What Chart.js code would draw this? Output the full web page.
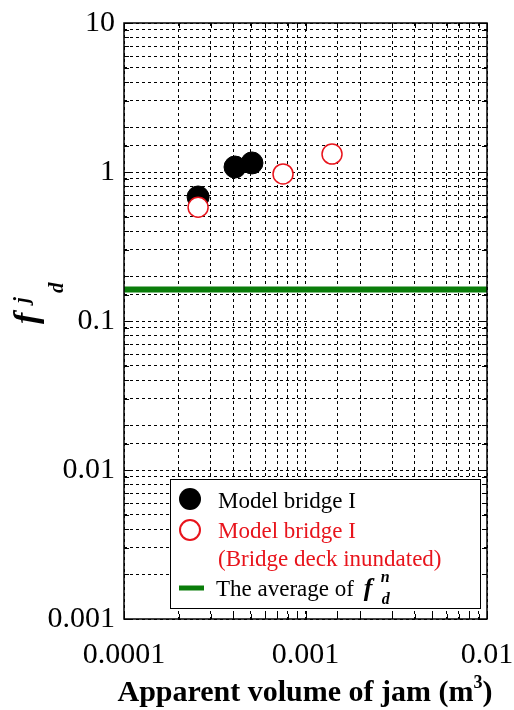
<!DOCTYPE html>
<html><head><meta charset="utf-8">
<script src="https://cdn.jsdelivr.net/npm/chart.js@4.4.0/dist/chart.umd.min.js"></script>
<style>html,body{margin:0;padding:0;background:#fff;} canvas{display:block;}</style>
</head><body>
<canvas id="c" width="514" height="710"></canvas>
<script>
// ---- data ----
const xRange = [0.0001, 0.01];
const yRange = [0.001, 10];
const xTickLabels = ['0.0001', '0.001', '0.01'];
const yTickLabels = ['0.001', '0.01', '0.1', '1', '10'];
const bridgeX = [0.000256, 0.000409, 0.000507];
const bridgeY = [0.68, 1.08, 1.15];
const inundatedX = [0.000256, 0.000752, 0.00140];
const inundatedY = [0.58, 0.97, 1.32];
const averageX = [0.0001, 0.01];
const averageY = [0.163, 0.163];
const legendTexts = ['Model bridge I', 'Model bridge I', '(Bridge deck inundated)', 'The average of '];
const xTitleMain = 'Apparent volume of jam (m';
const xTitleSup = '3';
const xTitleEnd = ')';

const SERIF = "'Liberation Serif', 'Times New Roman', serif";
const GREEN = '#0a7d0a';
const RED = '#e8141c';

function pts(xs, ys) { return xs.map((x, i) => ({ x: x, y: ys[i] })); }
function decadeLabel(v, min, labels) {
  const l = Math.log10(v);
  if (Math.abs(l - Math.round(l)) > 1e-6) return '';
  const idx = Math.round(l - Math.log10(min));
  return labels[idx] !== undefined ? labels[idx] : '';
}
function isDecade(v) { const l = Math.log10(v); return Math.abs(l - Math.round(l)) < 1e-6; }

const decor = {
  id: 'decor',
  afterDraw(chart) {
    const ctx = chart.ctx;
    const a = chart.chartArea;
    const xs = chart.scales.x, ys = chart.scales.y;
    ctx.save();
    // inner tick marks
    ctx.strokeStyle = '#000';
    ctx.lineWidth = 1;
    ctx.beginPath();
    ys.ticks.forEach(t => {
      const p = Math.round(ys.getPixelForValue(t.value)) + 0.5;
      const len = isDecade(t.value) ? 8 : 5;
      ctx.moveTo(a.left, p); ctx.lineTo(a.left + len, p);
      ctx.moveTo(a.right, p); ctx.lineTo(a.right - len, p);
    });
    xs.ticks.forEach(t => {
      const p = Math.round(xs.getPixelForValue(t.value)) + 0.5;
      const len = isDecade(t.value) ? 8 : 5;
      ctx.moveTo(p, a.bottom); ctx.lineTo(p, a.bottom - len);
      ctx.moveTo(p, a.top); ctx.lineTo(p, a.top + len);
    });
    ctx.stroke();
    // frame
    ctx.lineWidth = 1.5;
    ctx.strokeRect(a.left, a.top, a.right - a.left, a.bottom - a.top);

    // y title  f^j_d (rotated)
    ctx.save();
    ctx.translate(37, 324);
    ctx.rotate(-Math.PI / 2);
    ctx.fillStyle = '#000';
    ctx.textAlign = 'left';
    ctx.textBaseline = 'alphabetic';
    ctx.font = 'italic bold 34px ' + SERIF;
    ctx.fillText('f', 0, 0);
    ctx.font = 'italic bold 21px ' + SERIF;
    ctx.fillText('j', 21, -9);
    ctx.fillText('d', 31, 26);
    ctx.restore();

    // x title
    ctx.fillStyle = '#000';
    ctx.textBaseline = 'alphabetic';
    ctx.textAlign = 'left';
    const fMain = 'bold 30px ' + SERIF, fSup = 'bold 18px ' + SERIF;
    ctx.font = fMain;
    const w1 = ctx.measureText(xTitleMain).width;
    const w3 = ctx.measureText(xTitleEnd).width;
    ctx.font = fSup;
    const w2 = ctx.measureText(xTitleSup).width;
    const total = w1 + w2 + w3;
    let x0 = 305 - total / 2;
    const base = 701;
    ctx.font = fMain; ctx.fillText(xTitleMain, x0, base);
    ctx.font = fSup; ctx.fillText(xTitleSup, x0 + w1, base - 13);
    ctx.font = fMain; ctx.fillText(xTitleEnd, x0 + w1 + w2, base);

    // legend box
    const L = { l: 170, t: 479, r: 480, b: 608 };
    ctx.fillStyle = '#fff';
    ctx.fillRect(L.l, L.t, L.r - L.l, L.b - L.t);
    ctx.strokeStyle = '#000';
    ctx.lineWidth = 1;
    ctx.strokeRect(L.l + 0.5, L.t + 0.5, L.r - L.l, L.b - L.t);
    const mx = 190, tx = 218;
    ctx.beginPath(); ctx.arc(mx, 499, 11, 0, Math.PI * 2);
    ctx.fillStyle = '#000'; ctx.fill();
    ctx.beginPath(); ctx.arc(mx, 530, 10, 0, Math.PI * 2);
    ctx.fillStyle = '#fff'; ctx.fill();
    ctx.strokeStyle = RED; ctx.lineWidth = 2; ctx.stroke();
    ctx.strokeStyle = GREEN; ctx.lineWidth = 5;
    ctx.beginPath(); ctx.moveTo(179, 588); ctx.lineTo(204, 588); ctx.stroke();
    ctx.font = '23px ' + SERIF;
    ctx.fillStyle = '#000';
    ctx.fillText(legendTexts[0], tx, 508);
    ctx.fillStyle = RED;
    ctx.fillText(legendTexts[1], tx, 538);
    ctx.fillText(legendTexts[2], tx, 566);
    ctx.fillStyle = '#000';
    ctx.fillText(legendTexts[3], 216, 596);
    const fx = 216 + ctx.measureText(legendTexts[3]).width + 4;
    ctx.font = 'italic bold 26px ' + SERIF;
    ctx.fillText('f', fx, 596);
    ctx.font = 'italic bold 16px ' + SERIF;
    ctx.fillText('n', fx + 17, 582);
    ctx.fillText('d', fx + 18, 604);
    ctx.restore();
  }
};

new Chart(document.getElementById('c'), {
  type: 'scatter',
  data: {
    datasets: [
      {
        label: 'Model bridge I (Bridge deck inundated)',
        data: pts(inundatedX, inundatedY),
        pointRadius: 10, pointHoverRadius: 10,
        backgroundColor: '#fff', borderColor: RED, borderWidth: 1.5,
        order: 1
      },
      {
        label: 'Model bridge I',
        data: pts(bridgeX, bridgeY),
        pointRadius: 11, pointHoverRadius: 11,
        backgroundColor: '#000', borderColor: '#000', borderWidth: 1,
        order: 2
      },
      {
        label: 'The average of f^n_d',
        data: pts(averageX, averageY),
        showLine: true, pointRadius: 0, borderColor: GREEN, borderWidth: 6,
        clip: 0, order: 3
      }
    ]
  },
  options: {
    responsive: false,
    animation: false,
    devicePixelRatio: 1,
    layout: { padding: { top: 23, right: 27, left: 0, bottom: 0 } },
    plugins: { legend: { display: false }, tooltip: { enabled: false } },
    scales: {
      x: {
        type: 'logarithmic', min: xRange[0], max: xRange[1],
        afterFit: s => { s.height = 91; s.paddingLeft = 0; s.paddingRight = 0; },
        grid: { color: '#000', lineWidth: 1, drawTicks: false },
        border: { display: false, dash: [3, 3] },
        ticks: {
          autoSkip: false, maxRotation: 0, padding: 18, color: '#000',
          font: { family: SERIF, size: 30 },
          callback: v => decadeLabel(v, xRange[0], xTickLabels)
        }
      },
      y: {
        type: 'logarithmic', min: yRange[0], max: yRange[1],
        afterFit: s => { s.width = 124; s.paddingTop = 0; s.paddingBottom = 0; },
        grid: { color: '#000', lineWidth: 1, drawTicks: false },
        border: { display: false, dash: [3, 3] },
        ticks: {
          autoSkip: false, padding: 9, color: '#000',
          font: { family: SERIF, size: 30 },
          callback: v => decadeLabel(v, yRange[0], yTickLabels)
        }
      }
    }
  },
  plugins: [decor]
});
</script>
</body></html>
